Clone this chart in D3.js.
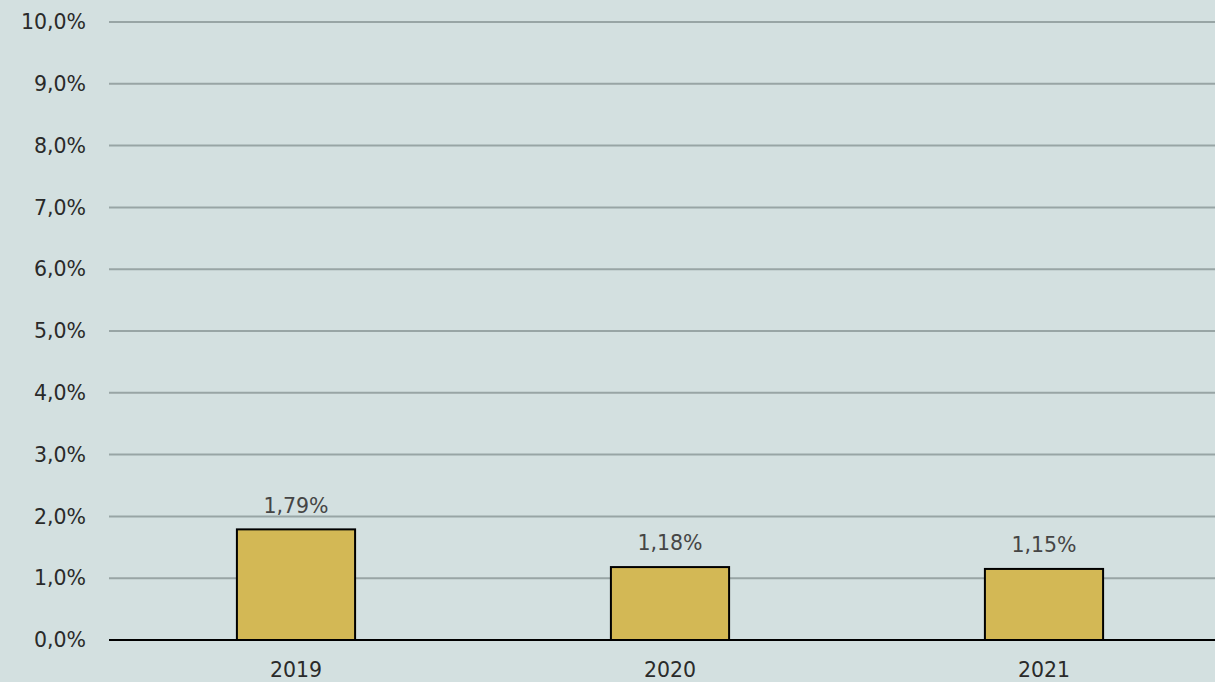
<!DOCTYPE html>
<html>
<head>
<meta charset="utf-8">
<script src="https://cdn.jsdelivr.net/npm/d3@7"></script>
<style>
  html, body { margin: 0; padding: 0; background: #d3e0e0; }
  svg { display: block; }
</style>
</head>
<body>
<div id="chart"></div>
<script>
const years = ["2019", "2020", "2021"];
const rates = [1.79, 1.18, 1.15];
const yTicks = [0, 1, 2, 3, 4, 5, 6, 7, 8, 9, 10];

const width = 1215, height = 682;
const fmtTick = d => d3.format(".1f")(d).replace(".", ",") + "%";
const fmtLabel = d => d3.format(".2f")(d).replace(".", ",") + "%";

const svg = d3.select("#chart").append("svg")
    .attr("width", width)
    .attr("height", height)
    .style("font-family", "'DejaVu Sans', sans-serif");

svg.append("rect")
    .attr("width", width)
    .attr("height", height)
    .attr("fill", "#d3e0e0");

const x = d3.scaleBand()
    .domain(years)
    .range([109, 1231])
    .paddingInner(0.684)
    .paddingOuter(0.342);

const y = d3.scaleLinear()
    .domain([0, 10])
    .range([640, 22]);

// gridlines
svg.append("g")
  .selectAll("line")
  .data(yTicks.filter(d => d > 0))
  .join("line")
    .attr("x1", 109)
    .attr("x2", width)
    .attr("y1", d => y(d))
    .attr("y2", d => y(d))
    .attr("stroke", "#98a5a5")
    .attr("stroke-width", 2);

// y tick labels
svg.append("g")
  .selectAll("text")
  .data(yTicks)
  .join("text")
    .attr("x", 86)
    .attr("y", d => y(d))
    .attr("dy", "0.35em")
    .attr("text-anchor", "end")
    .attr("font-size", 20.5)
    .attr("fill", "#2a2a2a")
    .text(fmtTick);

// bars
svg.append("g")
  .selectAll("rect")
  .data(rates)
  .join("rect")
    .attr("x", (d, i) => x(years[i]))
    .attr("y", d => y(d))
    .attr("width", x.bandwidth())
    .attr("height", d => y(0) - y(d))
    .attr("fill", "#d3b855")
    .attr("stroke", "#000")
    .attr("stroke-width", 2);

// baseline
svg.append("line")
    .attr("x1", 109)
    .attr("x2", width)
    .attr("y1", y(0))
    .attr("y2", y(0))
    .attr("stroke", "#000")
    .attr("stroke-width", 2);

// value labels
svg.append("g")
  .selectAll("text")
  .data(rates)
  .join("text")
    .attr("x", (d, i) => x(years[i]) + x.bandwidth() / 2)
    .attr("y", d => y(d) - 24)
    .attr("dy", "0.35em")
    .attr("text-anchor", "middle")
    .attr("font-size", 20.5)
    .attr("fill", "#454545")
    .text(fmtLabel);

// x labels
svg.append("g")
  .selectAll("text")
  .data(years)
  .join("text")
    .attr("x", d => x(d) + x.bandwidth() / 2)
    .attr("y", 670)
    .attr("dy", "0.35em")
    .attr("text-anchor", "middle")
    .attr("font-size", 20.5)
    .attr("fill", "#2a2a2a")
    .text(d => d);
</script>
</body>
</html>
